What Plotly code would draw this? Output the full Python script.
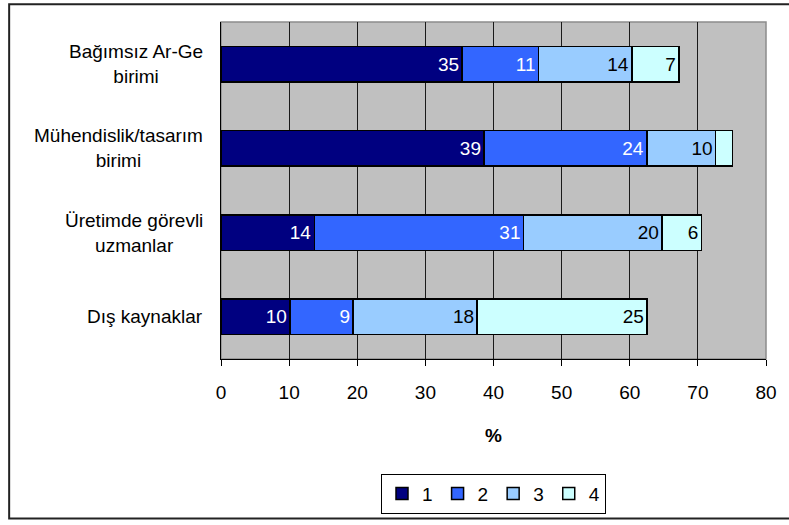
import plotly.graph_objects as go

categories = ["Bağımsız Ar-Ge<br>birimi", "Mühendislik/tasarım<br>birimi",
              "Üretimde görevli<br>uzmanlar", "Dış kaynaklar"]
series_names = ["1", "2", "3", "4"]
s1 = [35.4, 38.6, 13.7, 10.1]
s2 = [11.2, 23.9, 30.7, 9.3]
s3 = [13.7, 10.1, 20.3, 18.2]
s4 = [6.9, 2.5, 5.8, 24.9]
labels1 = ["35", "39", "14", "10"]
labels2 = ["11", "24", "31", "9"]
labels3 = ["14", "10", "20", "18"]
labels4 = ["7", "", "6", "25"]
x_ticks = [0, 10, 20, 30, 40, 50, 60, 70, 80]

colors = ["#000080", "#3366FF", "#99CCFF", "#CCFFFF"]
text_colors = ["white", "white", "black", "black"]
FONT = "Arial, Liberation Sans, sans-serif"
FS = 19

fig = go.Figure()
for name, vals, labs, col, tcol in zip(series_names, [s1, s2, s3, s4],
                                       [labels1, labels2, labels3, labels4],
                                       colors, text_colors):
    fig.add_trace(go.Bar(
        y=categories, x=vals, name=name, orientation="h",
        marker=dict(color=col, line=dict(color="black", width=1.5)),
        text=labs, textposition="inside", insidetextanchor="end",
        textangle=0, constraintext="none",
        textfont=dict(color=tcol, size=FS, family=FONT),
        width=0.42, hoverinfo="x+name",
    ))

for c in categories:
    fig.add_annotation(x=-0.029, y=c, xref="paper", yref="y", text=c,
                       showarrow=False, xanchor="right", yanchor="middle",
                       align="center", font=dict(size=FS, family=FONT, color="black"))

# plot area border (top/right gray)
fig.add_shape(type="rect", xref="paper", yref="paper", x0=0, x1=1, y0=0, y1=1,
              line=dict(color="#8c8c8c", width=1.5), layer="below")
# outer chart border: left, top and bottom edges only
fig.add_shape(type="path", xref="paper", yref="paper",
              path="M 1.2,1.0526 L -0.3887,1.0526 L -0.3887,-0.4735 L 1.2,-0.4735",
              line=dict(color="#222", width=2))

fig.update_layout(
    width=789, height=525,
    margin=dict(l=221, r=20, t=22, b=161),
    barmode="stack", bargap=0.58,
    plot_bgcolor="#C0C0C0", paper_bgcolor="white",
    font=dict(family=FONT, size=FS, color="black"),
    showlegend=True,
    legend=dict(orientation="h", x=0.5, xanchor="center", y=-0.34, yanchor="top",
                bordercolor="black", borderwidth=1, bgcolor="white",
                font=dict(size=FS, family=FONT), traceorder="normal",
                itemwidth=30),
    xaxis=dict(range=[0, 80], tickvals=x_ticks, showgrid=True, gridcolor="#1a1a1a",
               gridwidth=1, showline=True, linecolor="black", linewidth=1,
               ticks="outside", ticklen=6, tickcolor="black", zeroline=False,
               ticklabelstandoff=10,
               tickfont=dict(size=FS, family=FONT),
               title=dict(text="<b>%</b>", font=dict(size=FS, family=FONT), standoff=26)),
    yaxis=dict(categoryorder="array", categoryarray=categories, autorange="reversed",
               showticklabels=False, showgrid=False, showline=True, linecolor="black",
               linewidth=1, ticks="", zeroline=False),
)

fig.write_html("out.html", config={"displayModeBar": False},
               post_script=("document.documentElement.style.overflow='hidden';"
                            "document.body.style.overflow='hidden';"
                            "document.body.style.margin='0';"
                            "document.body.style.padding='0';"))
